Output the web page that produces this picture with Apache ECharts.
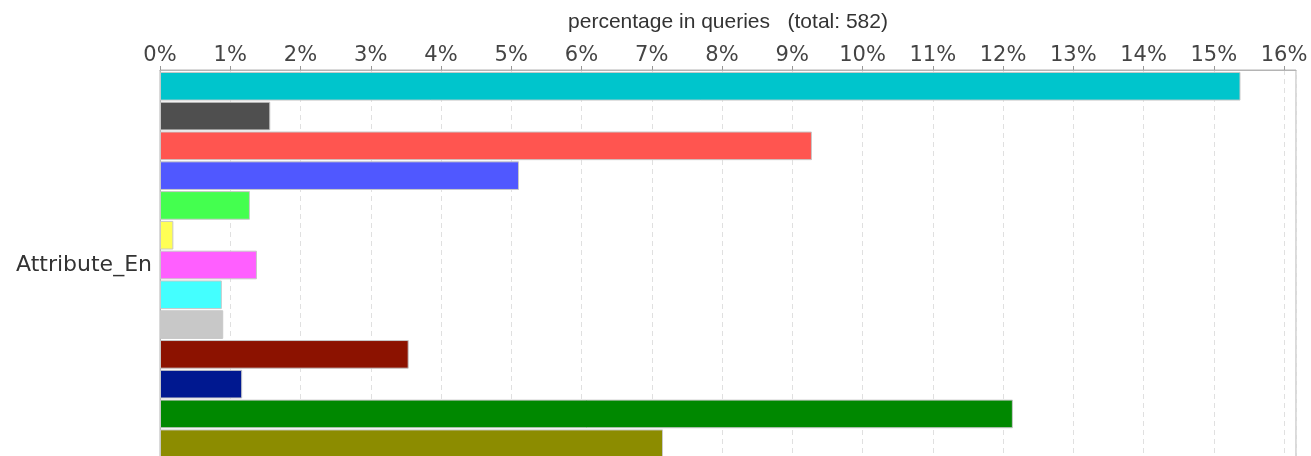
<!DOCTYPE html>
<html><head><meta charset="utf-8">
<script src="https://cdn.jsdelivr.net/npm/echarts@6/dist/echarts.min.js"></script>
<style>html,body{margin:0;padding:0;background:#fff}#c{width:1311px;height:456px}</style>
</head><body><div id="c"></div>
<script>
const categories = ["Attribute_En"];
const seriesNames = ["s1","s2","s3","s4","s5","s6","s7","s8","s9","s10","s11","s12","s13"];
const seriesValues = [15.38, 1.57, 9.28, 5.11, 1.28, 0.19, 1.38, 0.88, 0.90, 3.54, 1.17, 12.14, 7.16];
const seriesColors = ["#00c5cc","#4f4f4f","#ff5550","#5058ff","#44ff4f","#ffff55","#ff5fff","#44ffff","#c8c8c8","#8c1200","#001890","#008800","#8c8c00"];
const axisTitle = "percentage in queries   (total: 582)";

const chart = echarts.init(document.getElementById('c'), null, {renderer:'canvas'});
chart.setOption({
  animation:false,
  grid:{left:160, right:15, top:70, height:390, outerBoundsMode:'none', containLabel:false,
    show:true, borderColor:'#b4b4b4', borderWidth:1},
  xAxis:{type:'value', position:'top', min:0, max:16.17, interval:1,
    name:axisTitle, nameLocation:'middle', nameGap:37,
    nameTextStyle:{fontFamily:'Liberation Sans', fontSize:21, color:'#333'},
    axisLine:{show:true, lineStyle:{color:'#b4b4b4'}},
    axisTick:{show:true, length:4, lineStyle:{color:'#999'}},
    axisLabel:{fontFamily:'DejaVu Sans', fontSize:21, color:'#444', margin:4,
      showMaxLabel:false,
      formatter:v => (Math.abs(v-Math.round(v))<1e-6 ? Math.round(v)+'%' : '')},
    splitLine:{show:true, lineStyle:{color:'#e0e0e0', type:[5,4]}}},
  yAxis:{type:'category', data:categories, inverse:true,
    axisLine:{show:true, lineStyle:{color:'#b4b4b4'}},
    axisTick:{show:false},
    axisLabel:{fontFamily:'DejaVu Sans', fontSize:22, color:'#333', margin:8}},
  series: seriesNames.map((n,i)=>({
    name:n, type:'bar', data:[seriesValues[i]],
    barGap:'4%', barCategoryGap:'1%',
    itemStyle:{color:seriesColors[i], borderColor:'#c8c8c8', borderWidth:1}
  }))
});
</script></body></html>
